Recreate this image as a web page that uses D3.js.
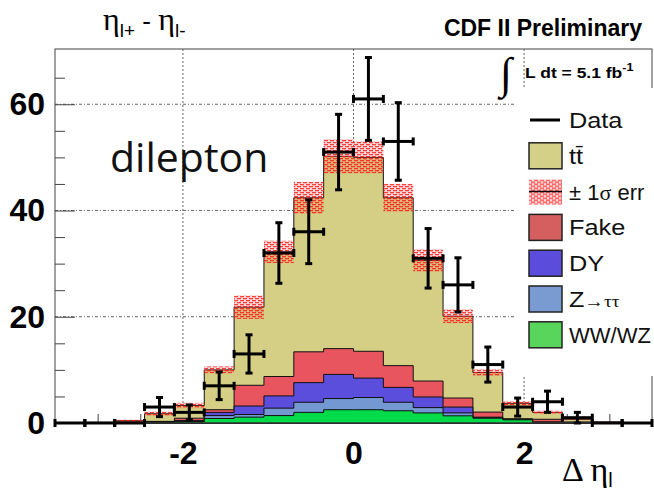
<!DOCTYPE html>
<html>
<head>
<meta charset="utf-8">
<script src="https://cdn.jsdelivr.net/npm/d3@7"></script>
<style>
  body { margin: 0; background: #fff; }
  svg { display: block; }
</style>
</head>
<body>
<div id="chart"></div>
<script>
// bin edges of the delta-eta histogram (20 bins)
var binEdges = [-3.5, -3.15, -2.8, -2.45, -2.1, -1.75, -1.4, -1.05, -0.7, -0.35, 0,
                0.35, 0.7, 1.05, 1.4, 1.75, 2.1, 2.45, 2.8, 3.15, 3.5]

// stacked backgrounds + signal
var wwwz  = [0.01, 0.02, 0.05, 0.1, 0.2, 0.85, 1.1, 1.4, 2.0, 2.5, 2.5, 2.3, 1.9, 1.35, 0.9, 0.6, 0.1, 0.05, 0.02, 0.01]
var ztt   = [0.01, 0.01, 0.03, 0.05, 0.1, 0.55, 0.5, 1.4, 1.9, 2.1, 2.3, 1.6, 1.0, 0.55, 0.1, 0.05, 0.05, 0.03, 0.01, 0.0]
var dy    = [0.01, 0.02, 0.04, 0.05, 0.15, 0.6, 1.6, 2.3, 3.7, 4.55, 3.65, 2.8, 2.0, 1.1, 0.1, 0.05, 0.05, 0.02, 0.01, 0.01]
var fake  = [0.01, 0.03, 0.08, 0.1, 0.45, 0.5, 3.9, 3.65, 5.8, 4.85, 5.05, 4.1, 3.0, 1.7, 0.95, 0.1, 0.5, 0.1, 0.02, 0.01]
var ttbar = [0.01, 0.04, 0.23, 1.45, 2.4, 7.5, 14.7, 23.45, 29.0, 36.2, 36.5, 31.6, 22.7, 15.4, 7.45, 2.9, 1.3, 0.5, 0.14, 0.02]

// +-1 sigma band half width on the total prediction
var sigma = [0.05, 0.05, 0.2, 0.4, 0.5, 0.65, 2.2, 2.1, 3.0, 3.2, 3.0, 2.6, 2.1, 1.3, 0.65, 0.4, 0.3, 0.15, 0.05, 0.05]

// data and its error bars
var dataCounts = [0, 0, 0, 3, 2, 7, 13, 32, 36, 51, 61, 53, 31, 26, 11, 3, 4, 1, 0, 0]
var dataErrors = [0, 0, 0, 1.8, 1.4, 2.6, 3.6, 5.7, 6.0, 7.1, 7.8, 7.3, 5.6, 5.1, 3.3, 1.7, 2.0, 1.0, 0, 0]

var xTicks = [-2, 0, 2]
var xMinorTicks = [-3, -2.5, -1.5, -1, -0.5, 0.5, 1, 1.5, 2.5, 3]
var yTicks = [0, 20, 40, 60]
var yMinorTicks = [5, 10, 15, 25, 30, 35, 45, 50, 55, 65]

var keys = ['wwwz', 'ztt', 'dy', 'fake', 'ttbar']
var plotColors = { wwwz: '#00db4a', ztt: '#7398d2', dy: '#5b4edc', fake: '#e9555f', ttbar: '#d5ce85' }

var W = 654, H = 490
var svg = d3.select('#chart').append('svg').attr('width', W).attr('height', H)
svg.append('rect').attr('width', W).attr('height', H).attr('fill', '#fff')

var x = d3.scaleLinear().domain([-3.5, 3.5]).range([55, 652])
var y = d3.scaleLinear().domain([0, 70.4]).range([423, 49])

// red dotted pattern for the error band
var defs = svg.append('defs')
var pat = defs.append('pattern').attr('id', 'band')
    .attr('patternUnits', 'userSpaceOnUse').attr('width', 6).attr('height', 4)
pat.append('rect').attr('width', 6).attr('height', 4).attr('fill', 'rgba(255,90,90,0.2)')
pat.append('rect').attr('x', 0).attr('y', 0).attr('width', 4).attr('height', 1.3).attr('fill', 'rgba(255,20,20,0.8)')
pat.append('rect').attr('x', 3).attr('y', 2).attr('width', 3).attr('height', 1.3).attr('fill', 'rgba(255,20,20,0.8)')
pat.append('rect').attr('x', 0).attr('y', 2).attr('width', 1).attr('height', 1.3).attr('fill', 'rgba(255,20,20,0.8)')

// grid
svg.append('g').selectAll('line').data(yTicks.filter(d => d > 0)).enter().append('line')
    .attr('x1', 55).attr('x2', 652).attr('y1', d => y(d)).attr('y2', d => y(d))
    .attr('stroke', '#666').attr('stroke-dasharray', '3,2,1,2')
svg.append('g').selectAll('line').data(xTicks).enter().append('line')
    .attr('x1', d => x(d)).attr('x2', d => x(d)).attr('y1', 49).attr('y2', 423)
    .attr('stroke', '#666').attr('stroke-dasharray', '2,2')

// axes (ticks point inward like ROOT)
function styleAxis(g) {
    g.select('.domain').remove()
    g.selectAll('line').attr('stroke', '#444')
}
svg.append('g').attr('transform', 'translate(55,0)')
    .call(d3.axisLeft(y).tickValues(yMinorTicks).tickSize(-10).tickFormat(''))
    .call(styleAxis)
svg.append('g').attr('transform', 'translate(55,0)')
    .call(d3.axisLeft(y).tickValues(yTicks).tickSize(-20).tickPadding(10))
    .call(styleAxis)
    .selectAll('text').attr('font-family', 'Liberation Sans, Arial, sans-serif')
    .attr('font-weight', 'bold').attr('font-size', 32).attr('fill', '#000')
svg.append('g').attr('transform', 'translate(0,423)')
    .call(d3.axisBottom(x).tickValues(xMinorTicks).tickSize(-9).tickFormat(''))
    .call(styleAxis)
svg.append('g').attr('transform', 'translate(0,423)')
    .call(d3.axisBottom(x).tickValues(xTicks).tickSize(-18).tickPadding(18)
        .tickFormat(d => d < 0 ? '-' + (-d) : String(d)))
    .call(styleAxis)
    .selectAll('text').attr('font-family', 'Liberation Sans, Arial, sans-serif')
    .attr('font-weight', 'bold').attr('font-size', 32).attr('fill', '#000')

// stacked histograms
var rows = binEdges.slice(0, -1).map((e, i) => ({
    wwwz: wwwz[i], ztt: ztt[i], dy: dy[i], fake: fake[i], ttbar: ttbar[i]
}))
var stacked = d3.stack().keys(keys)(rows)

function steps(layer) {
    var pts = []
    layer.forEach((d, i) => {
        pts.push({ x: binEdges[i], v: d[1] })
        pts.push({ x: binEdges[i + 1], v: d[1] })
    })
    return pts
}
var area = d3.area().x(d => x(d.x)).y0(y(0)).y1(d => y(d.v))

stacked.slice().reverse().forEach(layer => {
    svg.append('path').datum(steps(layer)).attr('d', area)
        .attr('fill', plotColors[layer.key]).attr('stroke', '#111').attr('stroke-width', 1)
})

// error band on total
var total = stacked[stacked.length - 1].map(d => d[1])
svg.append('g').selectAll('rect').data(total).enter().append('rect')
    .attr('x', (d, i) => x(binEdges[i]))
    .attr('width', (d, i) => x(binEdges[i + 1]) - x(binEdges[i]))
    .attr('y', (d, i) => y(d + sigma[i]))
    .attr('height', (d, i) => Math.max(1.5, y(Math.max(0, d - sigma[i])) - y(d + sigma[i])))
    .attr('fill', 'url(#band)')

// frame
svg.append('rect').attr('x', 55).attr('y', 49).attr('width', 597).attr('height', 374)
    .attr('fill', 'none').attr('stroke', '#444').attr('stroke-width', 1)

// data points with error bars
var pts = svg.append('g').selectAll('g').data(dataCounts).enter().append('g')
pts.each(function (v, i) {
    var g = d3.select(this)
    var x0 = x(binEdges[i]), x1 = x(binEdges[i + 1]), xc = (x0 + x1) / 2
    var yc = y(v), yt = y(v + dataErrors[i]), yb = y(Math.max(0, v - dataErrors[i]))
    g.append('line').attr('x1', x0).attr('x2', x1).attr('y1', yc).attr('y2', yc)
        .attr('stroke', '#000').attr('stroke-width', 3)
    g.append('rect').attr('x', x0 - 1.5).attr('y', yc - 4).attr('width', 3).attr('height', 8).attr('fill', '#000')
    g.append('rect').attr('x', x1 - 1.5).attr('y', yc - 4).attr('width', 3).attr('height', 8).attr('fill', '#000')
    if (dataErrors[i] > 0) {
        g.append('line').attr('x1', xc).attr('x2', xc).attr('y1', yt).attr('y2', yb)
            .attr('stroke', '#000').attr('stroke-width', 3)
        g.append('rect').attr('x', xc - 3.5).attr('y', yt - 1.5).attr('width', 7).attr('height', 3).attr('fill', '#000')
        g.append('rect').attr('x', xc - 3.5).attr('y', yb - 1.5).attr('width', 7).attr('height', 3).attr('fill', '#000')
    }
})

// legend
var legendNames = ['Data', 'tt', 'err', 'Fake', 'DY', 'Ztt', 'WW/WZ']
var legendColors = { tt: '#d5d088', Fake: '#d55e5e', DY: '#5b4cdb', Ztt: '#7a9bd2', 'WW/WZ': '#58d65b' }
svg.append('rect').attr('x', 514).attr('y', 88).attr('width', 150).attr('height', 288).attr('fill', '#fff')

var sans = 'Liberation Sans, Arial, sans-serif'
var serif = 'Liberation Serif, Times New Roman, serif'
var leg = svg.append('g').selectAll('g').data(legendNames).enter().append('g')
    .attr('transform', (d, i) => 'translate(0,' + (120 + i * 35.8) + ')')
leg.each(function (name) {
    var g = d3.select(this)
    if (name === 'Data') {
        g.append('line').attr('x1', 530).attr('x2', 560).attr('y1', 0).attr('y2', 0)
            .attr('stroke', '#000').attr('stroke-width', 3)
    } else if (name === 'err') {
        g.append('rect').attr('x', 529).attr('y', -12).attr('width', 33).attr('height', 25).attr('fill', 'url(#band)')
        g.append('line').attr('x1', 529).attr('x2', 562).attr('y1', 0).attr('y2', 0)
            .attr('stroke', '#000').attr('stroke-width', 1.5)
    } else {
        g.append('rect').attr('x', 529).attr('y', -13).attr('width', 33).attr('height', 26)
            .attr('fill', legendColors[name]).attr('stroke', '#222').attr('stroke-width', 1.5)
    }
    // long labels are not stretched so that they still fit
    var stretch = (name === 'err' || name === 'WW/WZ') ? 1 : 1.15
    var t = g.append('text').attr('transform', 'translate(569,8) scale(' + stretch + ',1)')
        .attr('font-family', sans).attr('font-size', 22).attr('fill', '#111')
    if (name === 'tt') {
        t.text('tt\u0304')
    } else if (name === 'err') {
        t.append('tspan').text('\u00b1 1')
        t.append('tspan').attr('font-family', serif).text('\u03c3')
        t.append('tspan').text(' err')
    } else if (name === 'Ztt') {
        t.append('tspan').text('Z')
        t.append('tspan').attr('font-family', serif).attr('font-size', 17).text('\u2192\u03c4\u03c4')
    } else {
        t.text(name)
    }
})

// luminosity label
svg.append('text').attr('x', 500).attr('y', 88).attr('font-family', serif)
    .attr('font-size', 44).text('\u222b')
var lum = svg.append('text').attr('transform', 'translate(525,78) scale(1.25,1)')
    .attr('font-family', sans).attr('font-weight', 'bold').attr('font-size', 14)
lum.append('tspan').text('L dt = 5.1 fb')
lum.append('tspan').attr('dy', -7).attr('font-size', 10).text('-1')

// titles
svg.append('text').attr('x', 642).attr('y', 36).attr('text-anchor', 'end')
    .attr('font-family', sans).attr('font-weight', 'bold').attr('font-size', 23).text('CDF II Preliminary')

var title = svg.append('text').attr('x', 103).attr('y', 30).attr('font-family', serif).attr('font-size', 32)
title.append('tspan').text('\u03b7')
title.append('tspan').attr('font-family', sans).attr('font-size', 19).attr('dy', 7).text('l+')
title.append('tspan').attr('font-family', sans).attr('font-size', 26).attr('dy', -7).text(' - ')
title.append('tspan').text('\u03b7')
title.append('tspan').attr('font-family', sans).attr('font-size', 19).attr('dy', 7).text('l-')

var xl = svg.append('text').attr('x', 562).attr('y', 481).attr('font-family', serif).attr('font-size', 34)
xl.append('tspan').text('\u0394 \u03b7')
xl.append('tspan').attr('font-family', sans).attr('font-size', 20).attr('dy', 6).text('l')

svg.append('text').attr('x', 110).attr('y', 172).attr('font-family', 'Open Sans, sans-serif')
    .attr('font-size', 41).attr('fill', '#111').text('dilepton')
</script>
</body>
</html>
